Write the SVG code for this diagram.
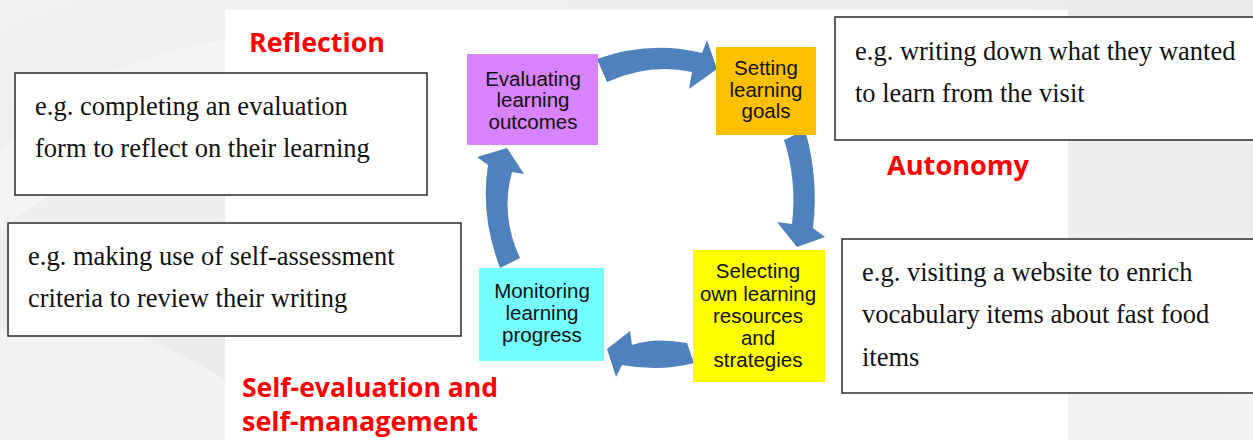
<svg xmlns="http://www.w3.org/2000/svg" width="1253" height="440" viewBox="0 0 1253 440">
  <style>
    .ex { fill: #ffffff; stroke: #2a2a2a; stroke-width: 1.5; }
    .ext { font-family: "Liberation Serif", "Times New Roman", serif; font-size: 26.5px; fill: #111111; }
    .nd { font-family: "Liberation Sans", Arial, sans-serif; font-size: 20.5px; fill: #111111; text-anchor: middle; }
    .hd { font-family: "Open Sans", "Liberation Sans", sans-serif; font-weight: 700; font-size: 27px; fill: #ff0000; }
    .arr { fill: #4f81bd; }
  </style>
  <defs>
    <linearGradient id="bg" x1="0" y1="0" x2="1" y2="1">
      <stop offset="0" stop-color="#f1f1f1"/>
      <stop offset="0.5" stop-color="#ebebeb"/>
      <stop offset="1" stop-color="#f0f0f0"/>
    </linearGradient>
  </defs>
  <rect x="0" y="0" width="1253" height="440" fill="url(#bg)"/>
  <path d="M0,150 Q90,60 225,40 L225,120 Q120,140 0,230 Z" fill="#f6f6f6" opacity="0.7"/>
  <path d="M0,330 Q100,300 225,380 L225,440 L0,440 Z" fill="#f5f5f5" opacity="0.7"/>
  <path d="M1068,300 Q1160,260 1253,300 L1253,440 L1068,440 Z" fill="#f4f4f4" opacity="0.7"/>
  <rect x="225" y="10" width="843" height="430" fill="#ffffff"/>

  <g id="connectors">
    <path class="arr" d="M597,59 Q650,40 702,53 L707,40 L717,69 L689,89 L692,72 Q650,63 607,82 Z"/>
    <path class="arr" d="M784,140 L805,130 Q819,178 813,228 L825,237 L797,247 L777,222 L792,224 Q797,180 784,140 Z"/>
    <path class="arr" d="M687,343 Q655,337 632,345 L630,331 L607,349 L616,377 L622,365 Q660,372 694,363 Z"/>
    <path class="arr" d="M500,268 Q480,215 488,165 L477,157 L507,148 L524,174 L512,172 Q500,215 520,258 Z"/>
  </g>

  <g id="node-evaluating">
    <rect x="467" y="54" width="131" height="91" fill="#d883ff"/>
    <text class="nd" x="533" y="86">Evaluating</text>
    <text class="nd" x="533" y="107">learning</text>
    <text class="nd" x="533" y="129">outcomes</text>
  </g>
  <g id="node-setting">
    <rect x="716" y="47" width="100" height="88" fill="#ffc000"/>
    <text class="nd" x="766" y="75">Setting</text>
    <text class="nd" x="766" y="97">learning</text>
    <text class="nd" x="766" y="118">goals</text>
  </g>
  <g id="node-selecting">
    <rect x="693" y="250" width="132" height="132" fill="#ffff00"/>
    <text class="nd" x="758" y="278">Selecting</text>
    <text class="nd" x="758" y="301">own learning</text>
    <text class="nd" x="758" y="323">resources</text>
    <text class="nd" x="758" y="345">and</text>
    <text class="nd" x="758" y="367">strategies</text>
  </g>
  <g id="node-monitoring">
    <rect x="479" y="268" width="125" height="93" fill="#75ffff"/>
    <text class="nd" x="542" y="298">Monitoring</text>
    <text class="nd" x="542" y="320">learning</text>
    <text class="nd" x="542" y="342">progress</text>
  </g>

  <g id="example-reflection">
    <rect class="ex" x="15" y="73" width="412" height="122"/>
    <text class="ext" x="35" y="115">e.g. completing an evaluation</text>
    <text class="ext" x="35" y="157">form to reflect on their learning</text>
  </g>
  <g id="example-autonomy">
    <rect class="ex" x="835" y="17" width="430" height="123"/>
    <text class="ext" x="855" y="60">e.g. writing down what they wanted</text>
    <text class="ext" x="855" y="102">to learn from the visit</text>
  </g>
  <g id="example-self-evaluation">
    <rect class="ex" x="8" y="223" width="453" height="113"/>
    <text class="ext" x="28" y="265">e.g. making use of self-assessment</text>
    <text class="ext" x="28" y="307">criteria to review their writing</text>
  </g>
  <g id="example-resources">
    <rect class="ex" x="842" y="239" width="430" height="154"/>
    <text class="ext" x="862" y="281">e.g. visiting a website to enrich</text>
    <text class="ext" x="862" y="323">vocabulary items about fast food</text>
    <text class="ext" x="862" y="366">items</text>
  </g>

  <g id="label-reflection">
    <text class="hd" x="249" y="52" textLength="136" lengthAdjust="spacingAndGlyphs">Reflection</text>
  </g>
  <g id="label-autonomy">
    <text class="hd" x="887" y="175" textLength="142" lengthAdjust="spacingAndGlyphs">Autonomy</text>
  </g>
  <g id="label-self-evaluation">
    <text class="hd" x="242" y="397" textLength="256" lengthAdjust="spacingAndGlyphs">Self-evaluation and</text>
    <text class="hd" x="242" y="431" textLength="236" lengthAdjust="spacingAndGlyphs">self-management</text>
  </g>
</svg>
